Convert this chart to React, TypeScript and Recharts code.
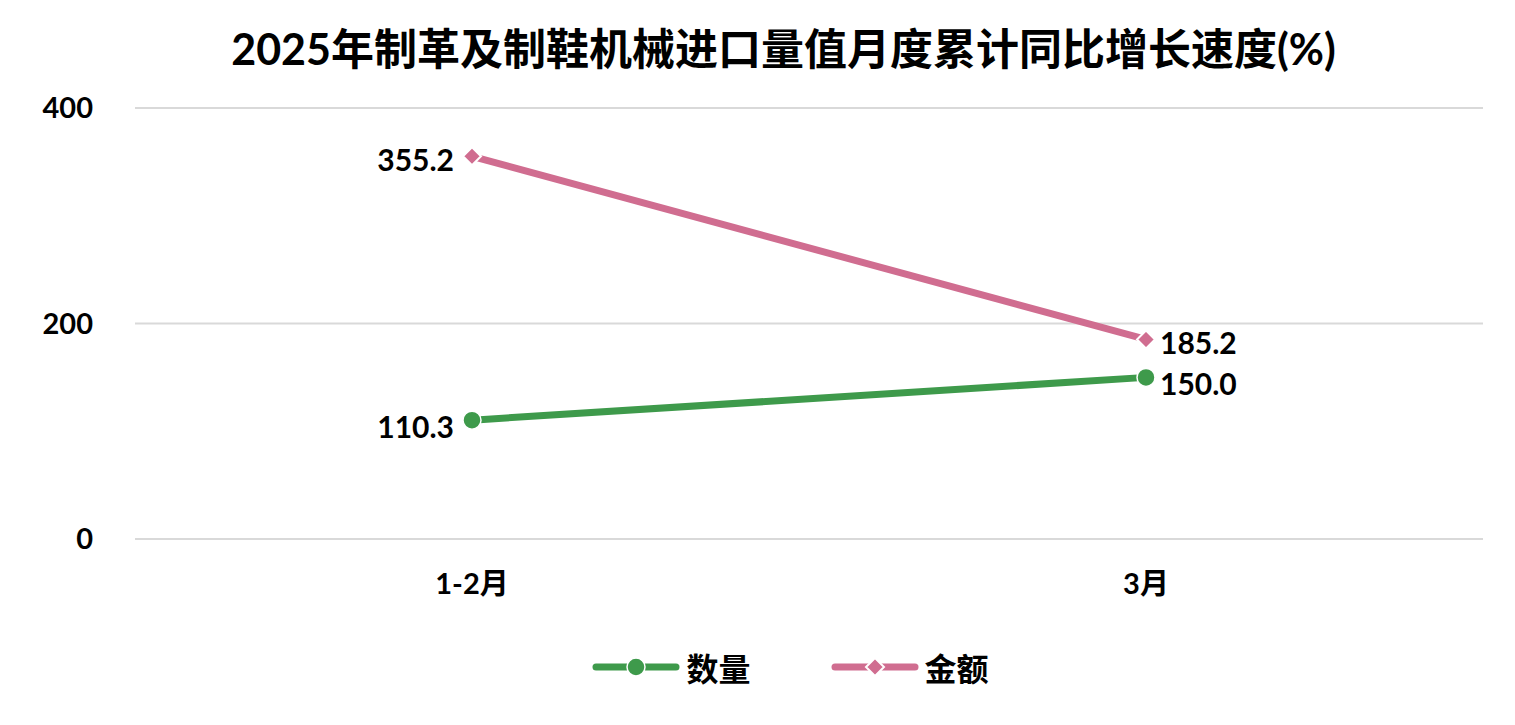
import React from 'react';
import { LineChart, Line, XAxis, YAxis, CartesianGrid, Legend, LabelList } from 'recharts';

const categories = ['1-2月', '3月'];
const quantity = [110.3, 150.0];
const amount = [355.2, 185.2];
const yTicks = [0, 200, 400];

const GREEN = '#3e9a4b';
const PINK = '#d06d90';
const FONT = "Lato, 'Noto Sans CJK SC', sans-serif";

const data = categories.map((c, i) => ({ month: c, quantity: quantity[i], amount: amount[i] }));

const Diamond = (props: any) => {
  const { cx, cy } = props;
  if (cx == null || cy == null) return null;
  const r = 9;
  return (
    <path
      d={`M${cx},${cy - r} L${cx + r},${cy} L${cx},${cy + r} L${cx - r},${cy} Z`}
      fill={PINK}
      stroke="#fff"
      strokeWidth={2}
    />
  );
};

const makeLabel = (dyOffset: number) => (props: any) => {
  const { x, y, value, index } = props;
  const left = index === 0;
  return (
    <text
      x={left ? x - 18 : x + 14}
      y={y + dyOffset}
      textAnchor={left ? 'end' : 'start'}
      dominantBaseline="central"
      fontFamily={FONT}
      fontWeight={700}
      fontSize={30}
      fill="#000"
    >
      {Number(value).toFixed(1)}
    </text>
  );
};

const LegendContent = () => (
  <div style={{ display: 'flex', justifyContent: 'center', alignItems: 'center', paddingLeft: 66, fontFamily: FONT, fontWeight: 700, fontSize: 32 }}>
    <svg width={88} height={24} style={{ marginRight: 6 }}>
      <line x1={4} y1={12} x2={84} y2={12} stroke={GREEN} strokeWidth={7} strokeLinecap="round" />
      <circle cx={44} cy={12} r={9} fill={GREEN} stroke="#fff" strokeWidth={1.5} />
    </svg>
    <span style={{ marginRight: 80 }}>数量</span>
    <svg width={88} height={24} style={{ marginRight: 6 }}>
      <line x1={4} y1={12} x2={84} y2={12} stroke={PINK} strokeWidth={7} strokeLinecap="round" />
      <path d="M44,3 L53,12 L44,21 L35,12 Z" fill={PINK} stroke="#fff" strokeWidth={2} />
    </svg>
    <span>金额</span>
  </div>
);

export default function App() {
  return (
    <div style={{ position: 'absolute', left: 0, top: 0, width: 1515, height: 725, background: '#fff' }}>
      <div
        style={{
          position: 'absolute',
          top: 23,
          left: 26,
          width: 1515,
          textAlign: 'center',
          fontFamily: FONT,
          fontWeight: 700,
          fontSize: 43,
          lineHeight: '52px',
          color: '#000',
        }}
      >
        2025年制革及制鞋机械进口量值月度累计同比增长速度(%)
      </div>
      <LineChart width={1515} height={725} data={data} margin={{ top: 108, right: 32, bottom: 0, left: 0 }}>
        <CartesianGrid vertical={false} stroke="#d9d9d9" strokeWidth={2} />
        <XAxis
          dataKey="month"
          axisLine={false}
          tickLine={false}
          tickSize={0}
          tickMargin={34}
          padding={{ left: 337, right: 337 }}
          tick={{ fill: '#000', fontSize: 29, fontWeight: 700, fontFamily: FONT }}
          height={140}
        />
        <YAxis
          width={135}
          domain={[0, 400]}
          ticks={yTicks}
          axisLine={false}
          tickLine={false}
          tickSize={0}
          tickMargin={42}
          tick={{ fill: '#000', fontSize: 29, fontWeight: 700, fontFamily: FONT }}
        />
        <Legend content={<LegendContent />} wrapperStyle={{ top: 644, left: 0, width: 1515 }} />
        <Line
          dataKey="quantity"
          name="数量"
          stroke={GREEN}
          strokeWidth={7}
          dot={{ r: 9, fill: GREEN, stroke: '#fff', strokeWidth: 1.5 }}
          activeDot={false}
          isAnimationActive={false}
        >
          <LabelList dataKey="quantity" content={makeLabel(6)} />
        </Line>
        <Line
          dataKey="amount"
          name="金额"
          stroke={PINK}
          strokeWidth={7}
          dot={<Diamond />}
          activeDot={false}
          isAnimationActive={false}
        >
          <LabelList dataKey="amount" content={makeLabel(3)} />
        </Line>
      </LineChart>
    </div>
  );
}
